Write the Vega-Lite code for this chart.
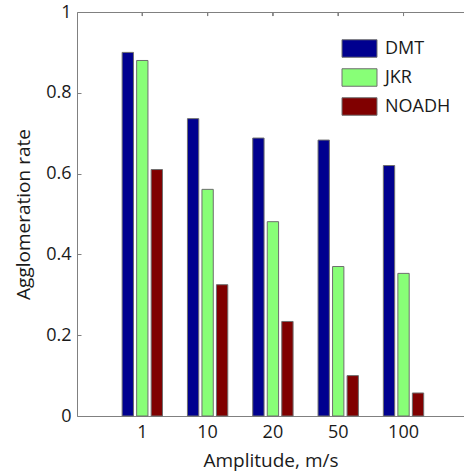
{
  "$schema": "https://vega.github.io/schema/vega-lite/v6.json",
  "autosize": "none",
  "width": 387,
  "height": 404,
  "padding": {"left": 77, "top": 12, "right": 0, "bottom": 56},
  "background": "white",
  "config": {
    "view": {"stroke": null},
    "font": "Open Sans",
    "axis": {
      "labelFont": "Open Sans",
      "titleFont": "Open Sans",
      "labelFontSize": 18,
      "titleFontSize": 19,
      "titleFontWeight": "normal",
      "labelColor": "#1a1a1a",
      "titleColor": "#1a1a1a",
      "domainColor": "#808080",
      "tickColor": "#808080",
      "grid": false
    },
    "legend": {
      "labelFont": "Open Sans",
      "labelFontSize": 18,
      "labelColor": "#1a1a1a"
    }
  },
  "data": {
    "values": [
      {"Amplitude": "1", "Model": "DMT", "rate": 0.90},
      {"Amplitude": "1", "Model": "JKR", "rate": 0.88},
      {"Amplitude": "1", "Model": "NOADH", "rate": 0.61},
      {"Amplitude": "10", "Model": "DMT", "rate": 0.736},
      {"Amplitude": "10", "Model": "JKR", "rate": 0.561},
      {"Amplitude": "10", "Model": "NOADH", "rate": 0.325},
      {"Amplitude": "20", "Model": "DMT", "rate": 0.688},
      {"Amplitude": "20", "Model": "JKR", "rate": 0.481},
      {"Amplitude": "20", "Model": "NOADH", "rate": 0.234},
      {"Amplitude": "50", "Model": "DMT", "rate": 0.683},
      {"Amplitude": "50", "Model": "JKR", "rate": 0.37},
      {"Amplitude": "50", "Model": "NOADH", "rate": 0.10},
      {"Amplitude": "100", "Model": "DMT", "rate": 0.62},
      {"Amplitude": "100", "Model": "JKR", "rate": 0.353},
      {"Amplitude": "100", "Model": "NOADH", "rate": 0.057}
    ]
  },
  "resolve": {"axis": {"x": "independent", "y": "independent"}},
  "layer": [
    {
      "mark": {"type": "bar", "stroke": "#6e6e6e", "strokeWidth": 1},
      "encoding": {
        "x": {
          "field": "Amplitude",
          "type": "nominal",
          "sort": ["1", "10", "20", "50", "100"],
          "scale": {"paddingInner": 0, "paddingOuter": 0.463, "align": 0.54},
          "axis": {
            "title": "Amplitude, m/s",
            "labelAngle": 0,
            "ticks": false,
            "labelPadding": 7,
            "titlePadding": 10
          }
        },
        "xOffset": {
          "field": "Model",
          "type": "nominal",
          "sort": ["DMT", "JKR", "NOADH"],
          "scale": {"paddingInner": 0.22, "paddingOuter": 0.86}
        },
        "y": {
          "field": "rate",
          "type": "quantitative",
          "scale": {"domain": [0, 1], "nice": false, "zero": true},
          "axis": {
            "title": "Agglomeration rate",
            "values": [0, 0.2, 0.4, 0.6, 0.8, 1],
            "format": "~g",
            "tickSize": -4,
            "labelPadding": 10,
            "titlePadding": 12
          }
        },
        "color": {
          "field": "Model",
          "type": "nominal",
          "sort": ["DMT", "JKR", "NOADH"],
          "scale": {
            "domain": ["DMT", "JKR", "NOADH"],
            "range": ["#00008f", "#88ff77", "#800000"]
          },
          "legend": {
            "title": null,
            "orient": "none",
            "legendX": 273,
            "legendY": 27,
            "padding": 0,
            "symbolType": "M-2,-1H2V1H-2Z",
            "symbolSize": 306,
            "symbolStrokeColor": "#6e6e6e",
            "symbolStrokeWidth": 1,
            "symbolOpacity": 1,
            "labelOffset": 16,
            "rowPadding": 6
          }
        }
      }
    },
    {
      "mark": {"type": "rule", "color": "#808080", "strokeWidth": 1},
      "encoding": {
        "x": {
          "field": "Amplitude",
          "type": "nominal",
          "sort": ["1", "10", "20", "50", "100"],
          "axis": {
            "orient": "top",
            "labels": false,
            "ticks": false,
            "domain": true,
            "title": null
          }
        },
        "y": {"datum": 1, "axis": null},
        "y2": {"datum": 0.99}
      }
    }
  ]
}
